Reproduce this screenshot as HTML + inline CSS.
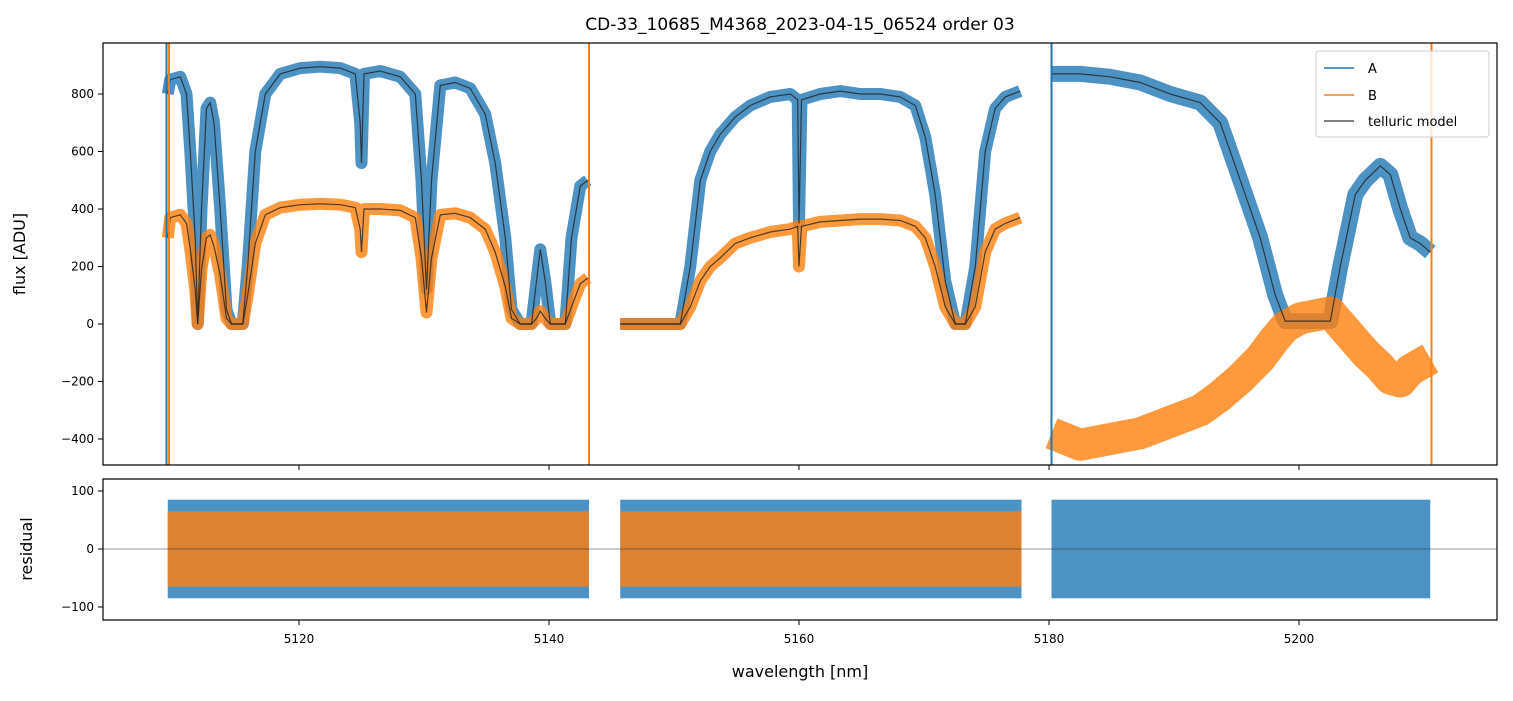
<!DOCTYPE html>
<html><head><meta charset="utf-8"><style>
body{margin:0;background:#fff;font-family:"Liberation Sans","DejaVu Sans",sans-serif}
svg text{font-family:"DejaVu Sans","Liberation Sans",sans-serif}
</style></head><body>
<svg id="c" width="1513" height="696" viewBox="0 0 1513 696" xmlns="http://www.w3.org/2000/svg">
<text x="800" y="30" font-size="17" text-anchor="middle">CD-33_10685_M4368_2023-04-15_06524  order 03</text>
<defs><clipPath id="ct"><rect x="103" y="43" width="1394" height="422"/></clipPath><clipPath id="cb"><rect x="103" y="479" width="1394" height="141"/></clipPath></defs>
<g id="topG" clip-path="url(#ct)"></g>
<g id="botG" clip-path="url(#cb)"></g>
<g id="axesG"></g>
<text x="25" y="254" font-size="16" text-anchor="middle" transform="rotate(-90 25 254)">flux [ADU]</text>
<text x="32" y="549" font-size="16" text-anchor="middle" transform="rotate(-90 32 549)">residual</text>
<text x="800" y="677" font-size="16" text-anchor="middle">wavelength [nm]</text>
<g>
<rect x="1316" y="51" width="173" height="86" fill="#fff" fill-opacity="0.8" stroke="#ccc" rx="3"/>
<line x1="1324" y1="68" x2="1354" y2="68" stroke="#1f77b4" stroke-width="1.5"/><text x="1368" y="73" font-size="13">A</text>
<line x1="1324" y1="95" x2="1354" y2="95" stroke="#ff7f0e" stroke-width="1.5"/><text x="1368" y="100" font-size="13">B</text>
<line x1="1324" y1="121" x2="1354" y2="121" stroke="#555" stroke-width="1.5"/><text x="1368" y="126" font-size="13">telluric model</text>
</g>
</svg>
<script>
const wl1=[5109.5,5109.7,5110.5,5111.0,5111.3,5111.7,5111.9,5112.2,5112.6,5112.9,5113.2,5113.7,5114.2,5114.6,5115.5,5115.9,5116.5,5117.3,5118.5,5120.1,5121.7,5123.3,5124.5,5124.9,5125.0,5125.2,5126.5,5128.1,5129.3,5129.8,5130.2,5130.6,5131.3,5132.5,5133.7,5134.9,5135.7,5136.5,5137.0,5137.7,5138.6,5139.0,5139.3,5139.7,5140.1,5141.3,5141.8,5142.5,5143.1];
const a1=[800,850,860,800,600,300,0,400,750,770,700,400,50,0,0,200,600,800,870,890,895,890,870,700,560,870,880,860,800,500,120,500,830,840,820,730,560,300,50,0,0,150,260,150,0,0,300,480,500];
const b1=[300,370,380,350,260,120,0,190,300,310,270,170,20,0,0,100,280,380,405,415,418,415,405,330,250,400,400,395,370,230,40,230,380,385,370,330,250,130,20,0,0,20,45,20,0,0,60,140,160];
const wl2=[5145.7,5147.3,5150.5,5151.3,5152.1,5152.9,5153.7,5154.9,5156.1,5157.7,5159.3,5159.9,5160.0,5160.2,5161.7,5163.3,5164.9,5166.5,5168.1,5169.3,5170.1,5170.9,5171.7,5172.5,5173.3,5174.1,5174.9,5175.7,5176.5,5177.7];
const a2=[0,0,0,200,500,600,660,720,760,790,800,780,350,780,800,810,800,800,790,760,650,450,150,0,0,200,600,750,790,810];
const b2=[0,0,0,60,150,200,230,280,300,320,330,340,200,340,355,360,365,365,360,340,300,200,60,0,0,60,250,330,350,370];
const wl3=[5180.2,5182.5,5184.9,5187.3,5189.7,5192.1,5193.7,5195.3,5196.9,5198.1,5198.9,5200.1,5202.5,5203.3,5204.5,5205.3,5206.5,5207.3,5208.1,5208.9,5209.7,5210.5];
const a3=[870,870,860,840,800,770,700,500,300,100,10,10,10,200,450,500,550,520,400,300,280,250];
const b3=[-380,-420,-400,-380,-340,-300,-250,-190,-120,-50,-10,20,40,0,-60,-100,-150,-190,-200,-160,-140,-120];
const resSegA=[[5109.5,5143.2],[5145.7,5177.8],[5180.2,5210.5]];
const resSegB=[[5109.5,5143.2],[5145.7,5177.8]];
const resAmpA=[85,85,85];
const resAmpB=[65,65];
const xTicks=[5120,5140,5160,5180,5200];
const yTicksTop=[-400,-200,0,200,400,600,800];
const yTicksBot=[-100,0,100];

const X=v=>299+(v-5120)*12.5;
const Y=v=>324-v*0.2875;
const R=v=>549-v*0.58;
const NS='http://www.w3.org/2000/svg';
function mk(p,tag,at){const e=document.createElementNS(NS,tag);for(const k in at)e.setAttribute(k,at[k]);p.appendChild(e);return e;}
const gTop=document.getElementById('topG'),gBot=document.getElementById('botG'),gAx=document.getElementById('axesG');
function pts(w,v){return w.map((x,i)=>X(x).toFixed(1)+','+Y(v[i]).toFixed(1)).join(' ');}
const segs=[[wl1,a1,b1,true,12,12],[wl2,a2,b2,true,12,12],[wl3,a3,b3,false,16,32]];
segs.forEach((s,i)=>{
 const la=mk(gTop,'polyline',{points:pts(s[0],s[1]),fill:'none',stroke:'#1f77b4','stroke-opacity':0.8,'stroke-width':s[4],'stroke-linejoin':'round'});
 
 
 const lb=mk(gTop,'polyline',{points:pts(s[0],s[2]),fill:'none',stroke:'#ff7f0e','stroke-opacity':0.8,'stroke-width':s[5],'stroke-linejoin':'round'});
 
 
});
segs.forEach((s,i)=>{
 const m=mk(gTop,'polyline',{points:pts(s[0],s[1]),fill:'none',stroke:'#222','stroke-opacity':0.8,'stroke-width':1.2});
 
 
 if(s[3]){const mb=mk(gTop,'polyline',{points:pts(s[0],s[2]),fill:'none',stroke:'#222','stroke-opacity':0.8,'stroke-width':1.2});
 
 }
});
[[5109.6,'#ff7f0e'],[5143.2,'#ff7f0e'],[5210.6,'#ff7f0e'],[5180.2,'#1f77b4'],[5109.4,'#1f77b4']].forEach(s=>{
 const l=mk(gTop,'line',{x1:X(s[0]),x2:X(s[0]),y1:43,y2:465,stroke:s[1],'stroke-width':2});
 
 
});
resSegA.forEach((s,i)=>{const r=mk(gBot,'rect',{x:X(s[0]),y:R(resAmpA[i]),width:X(s[1])-X(s[0]),height:R(-resAmpA[i])-R(resAmpA[i]),fill:'#1f77b4','fill-opacity':0.8});
 
 });
resSegB.forEach((s,i)=>{const r=mk(gBot,'rect',{x:X(s[0]),y:R(resAmpB[i]),width:X(s[1])-X(s[0]),height:R(-resAmpB[i])-R(resAmpB[i]),fill:'#ff7f0e','fill-opacity':0.8});
 
 });
mk(gBot,'line',{x1:103,x2:1497,y1:R(0),y2:R(0),stroke:'#333','stroke-width':0.6});
mk(gAx,'rect',{x:103,y:43,width:1394,height:422,fill:'none',stroke:'#000','stroke-width':1.2});
mk(gAx,'rect',{x:103,y:479,width:1394,height:141,fill:'none',stroke:'#000','stroke-width':1.2});
xTicks.forEach(t=>{
 mk(gAx,'line',{x1:X(t),x2:X(t),y1:465,y2:470,stroke:'#000'});
 mk(gAx,'line',{x1:X(t),x2:X(t),y1:620,y2:625,stroke:'#000'});
 const tx=mk(gAx,'text',{x:X(t),y:643,'font-size':12,'text-anchor':'middle'});tx.textContent=t;
 
 
});
yTicksTop.forEach(t=>{
 mk(gAx,'line',{x1:98,x2:103,y1:Y(t),y2:Y(t),stroke:'#000'});
 const tx=mk(gAx,'text',{x:94,y:Y(t)+4,'font-size':12,'text-anchor':'end'});tx.textContent=t<0?'\u2212'+(-t):t;
 
 
});
yTicksBot.forEach(t=>{
 mk(gAx,'line',{x1:98,x2:103,y1:R(t),y2:R(t),stroke:'#000'});
 const tx=mk(gAx,'text',{x:94,y:R(t)+4,'font-size':12,'text-anchor':'end'});tx.textContent=t<0?'\u2212'+(-t):t;
 
 
});
</script>
</body></html>
